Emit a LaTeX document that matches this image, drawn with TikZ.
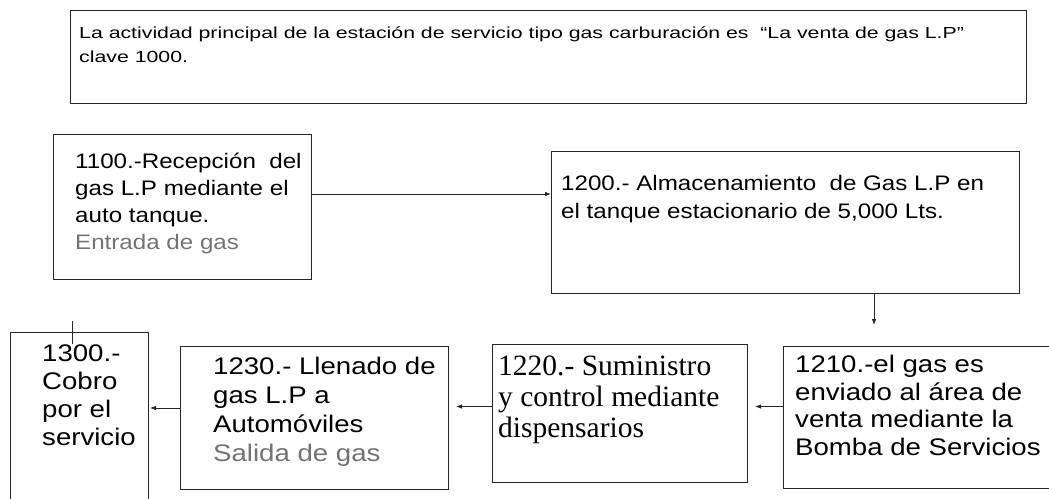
\documentclass[tikz,border=0pt]{standalone}
\usepackage{fontspec}
\setmainfont{Liberation Sans}
\newfontfamily\topfont[FakeStretch=1.33]{Liberation Sans}
\newfontfamily\boxfont[FakeStretch=1.15]{Liberation Sans}
\newfontfamily\serfont{Liberation Serif}
\usetikzlibrary{arrows.meta}
\tikzset{
  box/.style={draw=black!85,line width=1pt,anchor=north west,inner sep=0pt},
  txt/.style={anchor=north west,inner sep=0pt,align=left},
  arr/.style={-{Latex[length=6pt,width=4.5pt]},line width=0.8pt,draw=black!85}
}
\begin{document}
\begin{tikzpicture}[x=1pt,y=-1pt]
    \useasboundingbox (0,0) rectangle (1049,498);
    \node[box,minimum width=956,minimum height=93] (b1000) at (70,10) {};
    \node[box,minimum width=258,minimum height=145] (b1100) at (53,134) {};
    \node[box,minimum width=468,minimum height=142] (b1200) at (551,151) {};
    \node[box,minimum width=270,minimum height=142] (b1210) at (783,346) {};
    \node[box,minimum width=255,minimum height=138] (b1220) at (492,344) {};
    \node[box,minimum width=268,minimum height=143] (b1230) at (180,346) {};
    \node[box,minimum width=138,minimum height=170] (b1300) at (10,332) {};
    \node[txt,font=\topfont\fontsize{16}{24}\selectfont] (t1000) at (79,27) {La actividad principal de la estación de servicio tipo gas carburación es\ \ “La venta de gas L.P”\\clave 1000.};
    \node[txt,font=\boxfont\fontsize{21}{27}\selectfont] (t1100) at (75,153) {1100.-Recepción\ \ del\\gas L.P mediante el\\auto tanque.\\\textcolor{black!55}{Entrada de gas}};
    \node[txt,font=\boxfont\fontsize{21}{28}\selectfont] (t1200) at (561,175) {1200.- Almacenamiento\ \ de Gas L.P en\\el tanque estacionario de 5,000 Lts.};
    \node[txt,font=\boxfont\fontsize{24}{27.5}\selectfont] (t1210) at (795,355) {1210.-el gas es\\enviado al área de\\venta mediante la\\Bomba de Servicios};
    \node[txt,font=\serfont\fontsize{29.5}{31}\selectfont] (t1220) at (498,356) {1220.- Suministro\\y control mediante\\dispensarios};
    \node[txt,font=\boxfont\fontsize{24}{29}\selectfont] (t1230) at (213,357) {1230.- Llenado de\\gas L.P a\\Automóviles\\\textcolor{black!55}{Salida de gas}};
    \node[txt,font=\boxfont\fontsize{24}{28}\selectfont] (t1300) at (42,345) {1300.-\\Cobro\\por el\\servicio};
    \coordinate (c1210) at (874,325);
    \coordinate (c1300) at (72,321);
    \draw[arr] ([yshift=13]b1100.east) -- ([yshift=13]b1100.east -| b1200.west);
    \draw[arr] (b1200.south -| c1210) -- (c1210);
    \draw[arr,shorten >=7pt] ([yshift=11]b1210.west) -- ([yshift=11]b1210.west -| b1220.east);
    \draw[arr,shorten >=7pt] ([yshift=7]b1220.west) -- ([yshift=7]b1220.west -| b1230.east);
    \draw[arr,shorten >=1pt] ([yshift=10]b1230.west) -- ([yshift=10]b1230.west -| b1300.east);
    \draw[line width=1pt,black!85] (c1300) -- ++(0,23);
\end{tikzpicture}
\end{document}
